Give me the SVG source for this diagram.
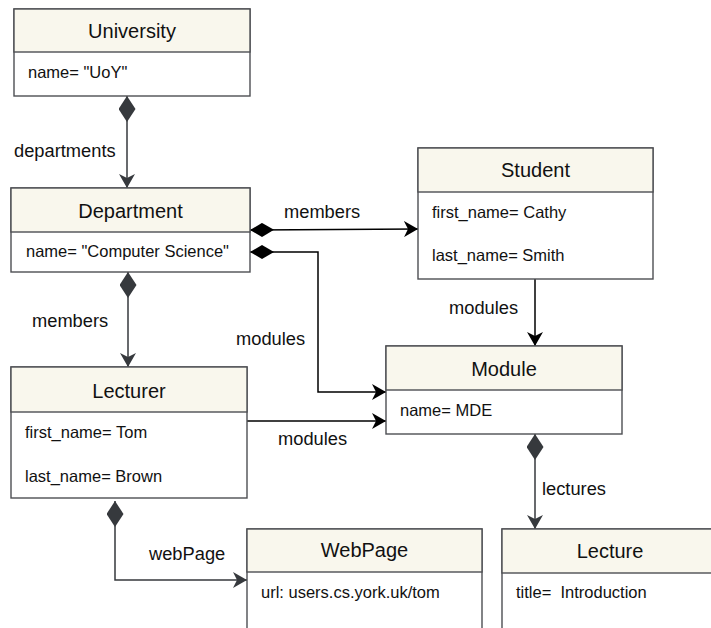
<svg xmlns="http://www.w3.org/2000/svg" width="711" height="628" viewBox="0 0 711 628">
<style>
.box{fill:#ffffff;stroke:#4d4f53;stroke-width:1.4}
.hdr{fill:#f9f7ed;stroke:#4d4f53;stroke-width:1.4}
.title{font-family:"Liberation Sans",Arial,sans-serif;font-size:20px;fill:#111;text-anchor:middle}
.attr{font-family:"Liberation Sans",Arial,sans-serif;font-size:16.5px;fill:#111;white-space:pre}
.lbl{font-family:"Liberation Sans",Arial,sans-serif;font-size:18.3px;fill:#111}
.cg{fill:none;stroke:#36393d;stroke-width:1.5}
.ck{fill:none;stroke:#000;stroke-width:1.5}
</style>
<defs>
<marker id="arrG" viewBox="0 0 14 16" markerWidth="14" markerHeight="16" refX="14" refY="8" orient="auto" markerUnits="userSpaceOnUse"><path d="M0,0 L14,8 L0,16 L4,8 Z" fill="#36393d"/></marker>
<marker id="arrK" viewBox="0 0 14 16" markerWidth="14" markerHeight="16" refX="14" refY="8" orient="auto" markerUnits="userSpaceOnUse"><path d="M0,0 L14,8 L0,16 L4,8 Z" fill="#000"/></marker>
<marker id="diaG" viewBox="0 0 26 17" markerWidth="26" markerHeight="17" refX="0" refY="8.5" orient="auto" markerUnits="userSpaceOnUse"><path d="M0,8.5 L13,0 L26,8.5 L13,17 Z" fill="#36393d"/></marker>
<marker id="diaK" viewBox="0 0 24 14" markerWidth="24" markerHeight="14" refX="0" refY="7" orient="auto" markerUnits="userSpaceOnUse"><path d="M0,7 L12,0 L24,7 L12,14 Z" fill="#000"/></marker>
</defs>

<g id="connectors">
<path class="cg" d="M127,96 L127,188" marker-start="url(#diaG)" marker-end="url(#arrG)"/>
<path class="cg" d="M128,272 L128,367" marker-start="url(#diaG)" marker-end="url(#arrG)"/>
<path class="ck" d="M250,230 L418,229" marker-start="url(#diaK)" marker-end="url(#arrK)"/>
<path class="ck" d="M250,252 L318,252 L318,392 L386,392" marker-start="url(#diaK)" marker-end="url(#arrK)"/>
<path class="ck" d="M247,421 L386,421" marker-end="url(#arrK)"/>
<path class="ck" d="M535,279 L535,346" marker-end="url(#arrK)"/>
<path class="cg" d="M535,434 L535,529" marker-start="url(#diaG)" marker-end="url(#arrG)"/>
<path class="cg" d="M115,501 L115,580 L247,580" marker-start="url(#diaG)" marker-end="url(#arrG)"/>
<text class="lbl" x="14" y="157">departments</text>
<text class="lbl" x="32" y="327">members</text>
<text class="lbl" x="284" y="218">members</text>
<text class="lbl" x="236" y="345">modules</text>
<text class="lbl" x="278" y="445">modules</text>
<text class="lbl" x="449" y="314">modules</text>
<text class="lbl" x="542" y="495">lectures</text>
<text class="lbl" x="149" y="560">webPage</text>
</g>

<g id="University">
<rect class="box" x="14" y="9" width="236" height="87"/>
<rect class="hdr" x="14" y="9" width="236" height="43"/>
<text class="title" x="132" y="38">University</text>
<text class="attr" x="28" y="78">name= "UoY"</text>
</g>

<g id="Department">
<rect class="box" x="11" y="188" width="239" height="84"/>
<rect class="hdr" x="11" y="188" width="239" height="44"/>
<text class="title" x="130.5" y="218">Department</text>
<text class="attr" x="26" y="257">name= "Computer Science"</text>
</g>

<g id="Student">
<rect class="box" x="418" y="148" width="235" height="131"/>
<rect class="hdr" x="418" y="148" width="235" height="44"/>
<text class="title" x="535.5" y="177">Student</text>
<text class="attr" x="432" y="218">first_name= Cathy</text>
<text class="attr" x="432" y="261">last_name= Smith</text>
</g>

<g id="Module">
<rect class="box" x="386" y="346" width="236" height="88"/>
<rect class="hdr" x="386" y="346" width="236" height="44"/>
<text class="title" x="504" y="376">Module</text>
<text class="attr" x="400" y="416">name= MDE</text>
</g>

<g id="Lecturer">
<rect class="box" x="11" y="367" width="236" height="131"/>
<rect class="hdr" x="11" y="367" width="236" height="45"/>
<text class="title" x="129" y="398">Lecturer</text>
<text class="attr" x="25" y="438">first_name= Tom</text>
<text class="attr" x="25" y="482">last_name= Brown</text>
</g>

<g id="WebPage">
<rect class="box" x="247" y="529" width="235" height="120"/>
<rect class="hdr" x="247" y="529" width="235" height="43"/>
<text class="title" x="364.5" y="557">WebPage</text>
<text class="attr" x="261" y="598">url: users.cs.york.uk/tom</text>
</g>

<g id="Lecture">
<rect class="box" x="502" y="529" width="216" height="120"/>
<rect class="hdr" x="502" y="529" width="216" height="44"/>
<text class="title" x="610" y="558">Lecture</text>
<text class="attr" x="516" y="598" xml:space="preserve">title=  Introduction</text>
</g>
</svg>
